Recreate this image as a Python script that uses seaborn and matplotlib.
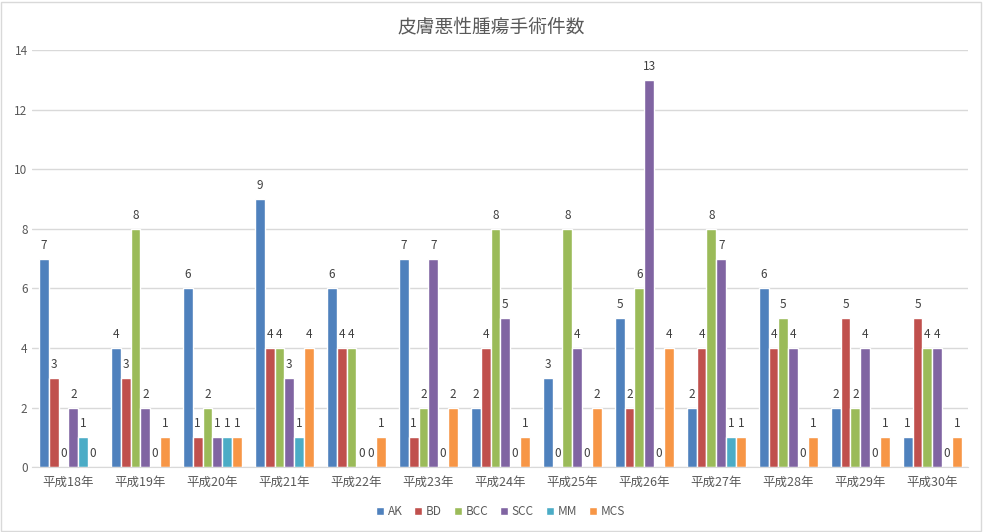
import numpy as np
import pandas as pd
import matplotlib
matplotlib.use("Agg")
import matplotlib.pyplot as plt
import seaborn as sns

# ── data
years = ["平成18年", "平成19年", "平成20年", "平成21年", "平成22年", "平成23年", "平成24年",
         "平成25年", "平成26年", "平成27年", "平成28年", "平成29年", "平成30年"]
series = ["AK", "BD", "BCC", "SCC", "MM", "MCS"]
ak  = [7, 4, 6, 9, 6, 7, 2, 3, 5, 2, 6, 2, 1]
bd  = [3, 3, 1, 4, 4, 1, 4, 0, 2, 4, 4, 5, 5]
bcc = [0, 8, 2, 4, 4, 2, 8, 8, 6, 8, 5, 2, 4]
scc = [2, 2, 1, 3, 0, 7, 5, 4, 13, 7, 4, 4, 4]
mm  = [1, 0, 1, 1, 0, 0, 0, 0, 0, 1, 0, 0, 0]
mcs = [0, 1, 1, 4, 1, 2, 1, 2, 4, 1, 1, 1, 1]
colors = ["#4F81BD", "#C0504D", "#9BBB59", "#8064A2", "#4BACC6", "#F79646"]

values = dict(zip(series, [ak, bd, bcc, scc, mm, mcs]))
df = pd.DataFrame([
    {"year": y, "type": s, "count": values[s][i]}
    for s in series for i, y in enumerate(years)
])

sns.set_style("white")
plt.rcParams["font.family"] = ["Noto Sans CJK JP", "DejaVu Sans"]

fig = plt.figure(figsize=(9.83, 5.32), dpi=100)
ax = fig.add_axes([0.033, 0.122, 0.952, 0.784])

sns.barplot(data=df, x="year", y="count", hue="type", hue_order=series,
            order=years, palette=colors, width=0.82, saturation=1,
            ax=ax, legend=True)

for cont in ax.containers:
    ax.bar_label(cont, fmt="%d", padding=5, fontsize=8.5, color="#404040")

ax.set_ylim(0, 14)
ax.set_yticks(range(0, 15, 2))
ax.grid(axis="y", color="#D9D9D9", linewidth=1)
ax.set_axisbelow(True)
for s in ["top", "right", "left"]:
    ax.spines[s].set_visible(False)
ax.spines["bottom"].set_color("#D9D9D9")
ax.tick_params(axis="both", length=0, labelsize=8.5, labelcolor="#595959")
ax.tick_params(axis="x", pad=6, labelsize=9)
ax.set_xlabel("")
ax.set_ylabel("")
ax.set_xlim(-0.5, len(years) - 0.5)

fig.suptitle("皮膚悪性腫瘍手術件数", y=0.97, fontsize=13.5, color="#595959")

ax.legend(loc="upper center", bbox_to_anchor=(0.5, -0.065), ncol=6, frameon=False,
          fontsize=8.5, handlelength=0.7, handleheight=0.7, handletextpad=0.3,
          columnspacing=1.0, labelcolor="#595959")

# light border around the chart
fig.patches.append(plt.Rectangle((0.001, 0.002), 0.997, 0.995, transform=fig.transFigure,
                                 fill=False, edgecolor="#D9D9D9", linewidth=1))

fig.savefig("out.png", dpi=100)
plt.close(fig)
